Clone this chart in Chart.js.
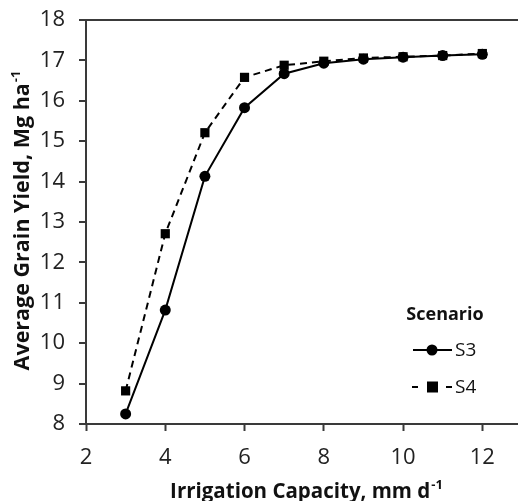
<!DOCTYPE html>
<html><head><meta charset="utf-8">
<script src="https://cdn.jsdelivr.net/npm/chart.js"></script>
<style>html,body{margin:0;padding:0;background:#fff}canvas{display:block}</style>
</head><body>
<canvas id="c" width="518" height="501"></canvas>
<script>
const capacity = [3,4,5,6,7,8,9,10,11,12];
const s3Yield = [8.25,10.82,14.13,15.83,16.67,16.93,17.03,17.08,17.12,17.15];
const s4Yield = [8.82,12.71,15.21,16.58,16.88,16.98,17.06,17.09,17.12,17.17];
const xTicks = [2,4,6,8,10,12];
const yTicks = [8,9,10,11,12,13,14,15,16,17,18];
const seriesNames = ['S3','S4'];
const legendTitle = 'Scenario';
const xTitle = ['Irrigation Capacity, mm d','-1'];
const yTitle = ['Average Grain Yield, Mg ha','-1'];

const FONT = "Open Sans";
const AX = '#3a3a3a';

function supText(ctx, parts, x, y, size){
  ctx.font = 'bold '+size+'px '+FONT;
  const w1 = ctx.measureText(parts[0]).width;
  ctx.font = 'bold '+Math.round(size*0.62)+'px '+FONT;
  const w2 = ctx.measureText(parts[1]).width;
  const start = x - (w1+w2)/2;
  ctx.textAlign='left'; ctx.textBaseline='alphabetic';
  ctx.font = 'bold '+size+'px '+FONT;
  ctx.fillText(parts[0], start, y);
  ctx.font = 'bold '+Math.round(size*0.62)+'px '+FONT;
  ctx.fillText(parts[1], start+w1+1, y - size*0.42);
}

const extras = {
  id:'extras',
  afterDraw(chart){
    const ctx = chart.ctx;
    ctx.save();
    ctx.fillStyle = '#111';
    supText(ctx, xTitle, 306, 498, 20.5);
    ctx.save();
    ctx.translate(29, 221);
    ctx.rotate(-Math.PI/2);
    supText(ctx, yTitle, 0, 0, 21.5);
    ctx.restore();
    ctx.fillStyle='#111';
    ctx.font = 'bold 18px '+FONT;
    ctx.textAlign='center'; ctx.textBaseline='middle';
    ctx.fillText(legendTitle, 445, 315);
    const ds = chart.data.datasets;
    const rows = [350, 387];
    ds.forEach((d,i)=>{
      const y = rows[i];
      ctx.strokeStyle = '#000'; ctx.lineWidth = 2;
      ctx.setLineDash([]);
      ctx.beginPath();
      if(i===0){ ctx.moveTo(413,y); ctx.lineTo(452,y); }
      else { ctx.moveTo(412,y); ctx.lineTo(418,y); ctx.moveTo(446,y); ctx.lineTo(452,y); }
      ctx.stroke();
      ctx.fillStyle='#000';
      if(d.pointStyle==='circle'){ ctx.beginPath(); ctx.arc(432,y,5.5,0,Math.PI*2); ctx.fill(); }
      else { ctx.fillRect(427,y-5.5,11,11); }
      ctx.fillStyle='#111';
      ctx.font = '19px '+FONT;
      ctx.textAlign='left';
      ctx.fillText(d.label, 455, y+1);
    });
    ctx.restore();
  }
};

new Chart(document.getElementById('c'), {
  type:'line',
  data:{
    datasets:[
      {label:seriesNames[0], data:capacity.map((x,i)=>({x, y:s3Yield[i]})), borderColor:'#000', backgroundColor:'#000',
       borderWidth:2, pointStyle:'circle', pointRadius:5.5, pointBorderWidth:0, tension:0},
      {label:seriesNames[1], data:capacity.map((x,i)=>({x, y:s4Yield[i]})), borderColor:'#000', backgroundColor:'#000',
       borderWidth:2, borderDash:[7,5], pointStyle:'rect', pointRadius:6.5, pointBorderWidth:0, tension:0}
    ]
  },
  options:{
    responsive:false, animation:false,
    layout:{autoPadding:false, padding:{top:20,right:0,left:0,bottom:0}},
    plugins:{legend:{display:false}, tooltip:{enabled:false}},
    scales:{
      x:{type:'linear', min:2, max:12.9,
         afterBuildTicks(s){ s.ticks = xTicks.map(v=>({value:v})); },
         afterFit(s){ s.height = 77; s.paddingLeft = 0; s.paddingRight = 0; },
         border:{color:AX, width:2},
         grid:{display:true, drawOnChartArea:false, drawTicks:true, tickLength:7, tickColor:AX, tickWidth:2, color:AX},
         ticks:{color:'#222', font:{family:FONT, size:22}, padding:14, maxRotation:0, autoSkip:false}
      },
      y:{type:'linear', min:8, max:18,
         afterBuildTicks(s){ s.ticks = yTicks.map(v=>({value:v})); },
         afterFit(s){ s.width = 86; s.paddingTop = 0; s.paddingBottom = 0; },
         border:{color:AX, width:2},
         grid:{drawTicks:true, tickLength:7, tickColor:AX, tickWidth:2,
               color:(c)=> (c.tick && c.tick.value===18) ? AX : 'rgba(0,0,0,0)', lineWidth:2},
         ticks:{color:'#222', font:{family:FONT, size:22}, padding:14, autoSkip:false}
      }
    }
  },
  plugins:[extras]
});
</script>
</body></html>
